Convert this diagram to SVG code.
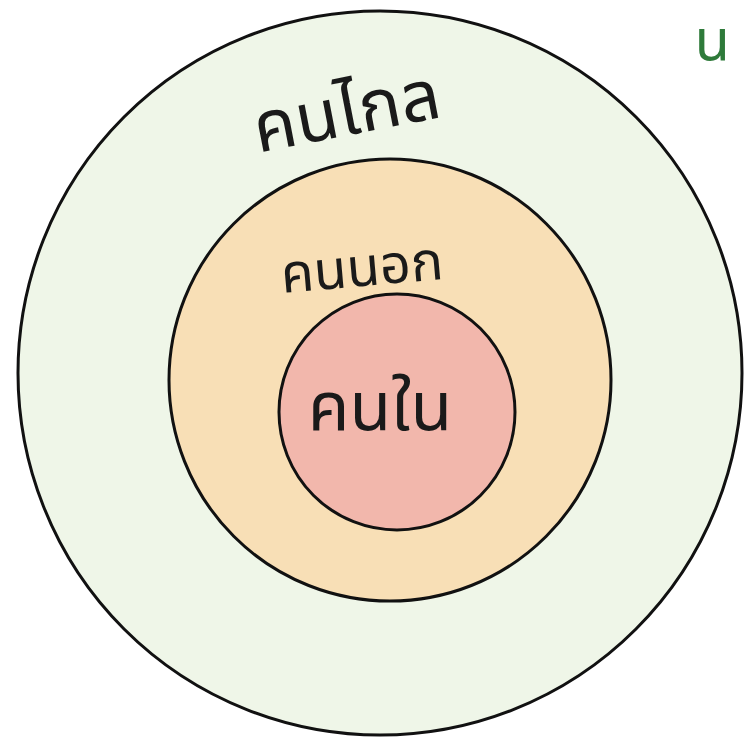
<svg xmlns="http://www.w3.org/2000/svg" width="746" height="742" viewBox="0 0 746 742">
  <style>
    .ring { stroke: #111; stroke-width: 3; }
    .hand { font-family: "Noto Sans Thai", "Noto Sans", "DejaVu Sans", sans-serif; fill: #1a1a1a; }
  </style>
  <rect width="746" height="742" fill="#ffffff"/>
  <g id="outer">
    <circle class="ring" cx="380" cy="373" r="362" fill="#eff6e8"/>
    <text class="hand" x="347" y="135" font-size="70" text-anchor="middle" transform="rotate(-11 347 115)">คนไกล</text>
  </g>
  <g id="middle">
    <circle class="ring" cx="390" cy="380" r="221" fill="#f8dfb6"/>
    <text class="hand" x="362" y="286" font-size="54" text-anchor="middle" transform="rotate(-5 362 270)" fill="#2a1a12">คนนอก</text>
  </g>
  <g id="inner">
    <circle class="ring" cx="397" cy="412" r="118" fill="#f2b7ac"/>
    <text class="hand" x="380" y="430" font-size="68" text-anchor="middle" fill="#2a1210">คนใน</text>
  </g>
  <g id="title">
    <text x="730" y="60" font-size="58" text-anchor="end" font-family="Noto Sans Thai, Noto Sans, sans-serif" fill="#2e7a3a">น</text>
  </g>
</svg>
